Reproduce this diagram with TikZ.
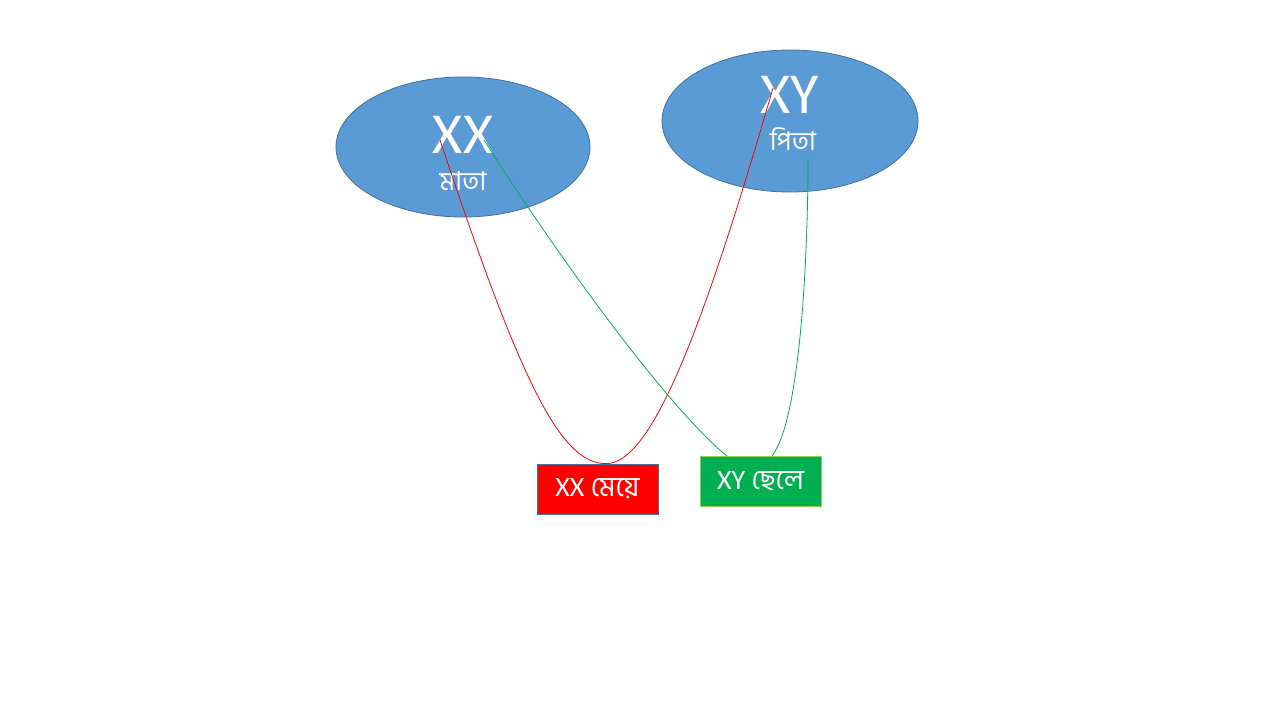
\documentclass[tikz,border=0pt]{standalone}
\usepackage{fontspec}
\setmainfont{Carlito}
\newfontfamily\bnfont[Script=Bengali]{Hind Siliguri}
\usetikzlibrary{shapes.geometric}
\definecolor{blfill}{HTML}{5B9BD5}
\definecolor{bldraw}{HTML}{41719C}
\definecolor{gfill}{HTML}{00B050}
\definecolor{gdraw}{HTML}{92D050}
\definecolor{gline}{HTML}{00B050}
\tikzset{
  parent/.style={ellipse, fill=blfill, draw=bldraw, line width=0.8pt, minimum width=254pt, minimum height=140pt, inner sep=0pt},
  big/.style={text=white, font=\fontsize{58}{58}\selectfont, inner sep=0pt},
  bname/.style={text=white, font=\bnfont\fontsize{26}{26}\selectfont, inner sep=0pt},
  child/.style={minimum width=121pt, minimum height=50pt, inner sep=0pt, text=white, font=\fontsize{28}{28}\selectfont, line width=0.8pt},
  redline/.style={red, line width=0.8pt},
  greenline/.style={gline, line width=0.8pt}
}
\begin{document}
\begin{tikzpicture}[x=1pt,y=-1pt]
\useasboundingbox (0,0) rectangle (1280,720);
\node[parent] (mother) at (463,147) {};
\node[parent, minimum width=256pt, minimum height=142pt] (father) at (790,121) {};
\node[big] (xx) at (463,135) {XX};
\node[bname] (mata) at (463,181) {মাতা};
\node[big] (xy) at (790,95) {XY};
\node[bname] (pita) at (793,139) {পিতা};
\node[child, fill=red, draw=bldraw] (girl) at (597.5,489) {XX {\bnfont মেয়ে}};
\node[child, fill=gfill, draw=gdraw] (boy) at (760.5,481) {XY {\bnfont ছেলে}};
\coordinate (rs) at (440,140);
\coordinate (re) at (773,88);
\coordinate (gs) at (484,140);
\coordinate (ge) at (808,158);
\coordinate (gb1) at (727,456);
\coordinate (gb2) at (772,456);
\draw[redline] (rs) .. controls (520,380) and (560,464) .. (girl.north -| 606,0) .. controls (650,464) and (700,340) .. (re);
\draw[greenline] (gs) .. controls (560,260) and (670,410) .. (gb1);
\draw[greenline] (gb2) .. controls (800,420) and (808,260) .. (ge);
\end{tikzpicture}
\end{document}
